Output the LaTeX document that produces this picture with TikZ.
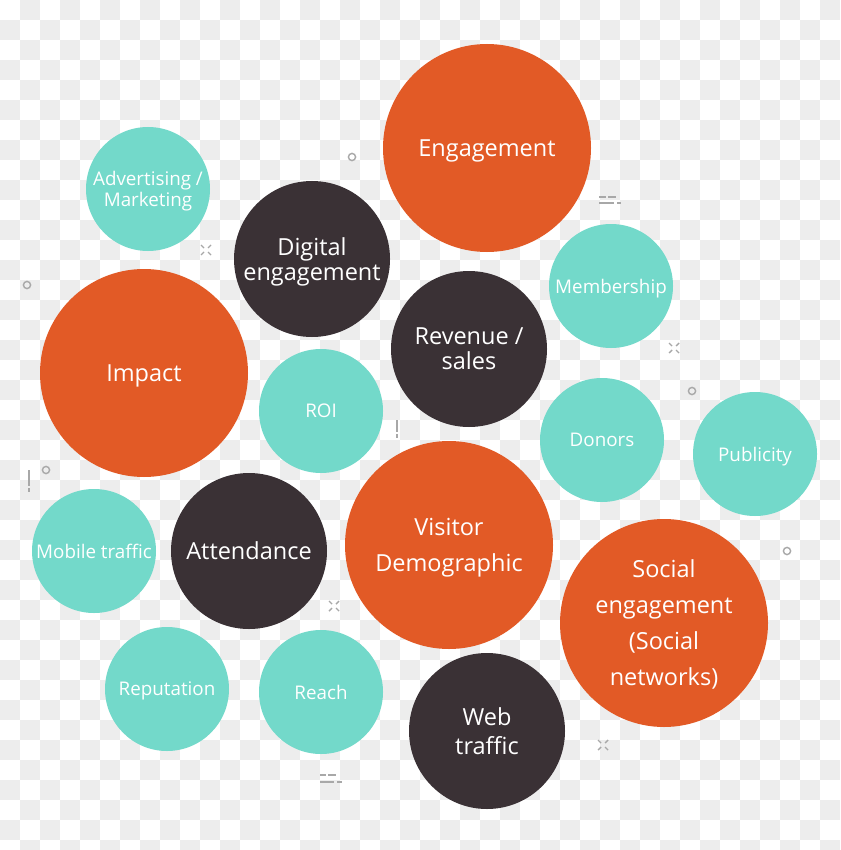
\documentclass[tikz,border=0pt]{standalone}
\usepackage{fontspec}
\setmainfont{Open Sans}
\definecolor{ballorange}{HTML}{E25A26}
\definecolor{ballteal}{HTML}{73D9CA}
\definecolor{balldark}{HTML}{3A3135}
\definecolor{checkgray}{HTML}{EDEDED}
\definecolor{markgray}{HTML}{A8A8A8}

\begin{document}
\begin{tikzpicture}[x=1pt,y=-1pt,
    ball/.style={circle, inner sep=0pt, align=center, text=white, text depth=0pt},
    bigball/.style={ball, fill=ballorange, minimum size=208pt, font=\fontsize{23.5}{36}\selectfont},
    midball/.style={ball, fill=balldark, minimum size=156pt, font=\fontsize{23.5}{25}\selectfont},
    smallball/.style={ball, fill=ballteal, minimum size=124pt, font=\fontsize{18.8}{21}\selectfont},
    ring/.style={draw=markgray, line width=1.4pt},
    tick/.style={draw=markgray, line width=1.4pt}]
  % Canvas
  \useasboundingbox (0,0) rectangle (840,850);
  \clip (0,0) rectangle (840,850);
  \fill[white] (0,0) rectangle (840,850);

  % Checkerboard background
  \foreach \i in {0,...,41}
    \foreach \j in {0,...,42}{
      \pgfmathtruncatemacro\odd{mod(\i+\j,2)}
      \ifnum\odd=1 \fill[checkgray] (20*\i,20*\j) rectangle ++(20,20); \fi
    }

  % Small rings
  \foreach \p in {(352,157),(27,285),(46,470),(692,391),(787,551)}
    \draw[ring] \p circle (3.6pt);

  % Small crosses
  \foreach \p in {(206,250),(674,348),(334,606),(603,745)}{
    \draw[tick] \p ++(-5,-5) -- ++(3,3);
    \draw[tick] \p ++(5,-5) -- ++(-3,3);
    \draw[tick] \p ++(-5,5) -- ++(3,-3);
    \draw[tick] \p ++(5,5) -- ++(-3,-3);
  }

  % Dash marks
  \draw[tick] (599,197) -- (606,197) (608,197) -- (616,197);
  \draw[tick] (599,203) -- (614,203) (617,203) -- (621,203);
  \draw[tick] (320,775) -- (326,775) (328,775) -- (336,775);
  \draw[tick] (320,782) -- (334,782) (337,782) -- (342,782);
  \draw[tick] (397,420) -- (397,432) (397,434) -- (397,438);
  \draw[tick] (29,470) -- (29,486) (29,488) -- (29,492);

  % Orange bubbles
  \node[bigball] (engagement) at (487,148) {Engagement};
  \node[bigball] (impact) at (144,373) {Impact};
  \node[bigball] (visitor) at (449,545) {Visitor\\Demographic};
  \node[bigball] (social) at (664,623) {Social\\engagement\\(Social\\networks)};

  % Dark bubbles
  \node[midball] (digital) at (312,259) {Digital\\engagement};
  \node[midball] (revenue) at (469,349) {Revenue /\\sales};
  \node[midball] (attendance) at (249,551) {Attendance};
  \node[midball, font=\fontsize{23.5}{29}\selectfont] (web) at (487,731) {Web\\traffic};

  % Teal bubbles
  \node[smallball] (advertising) at (148,189) {Advertising /\\Marketing};
  \node[smallball] (membership) at (611,286) {Membership};
  \node[smallball] (roi) at (321,411) {ROI};
  \node[smallball] (donors) at (602,440) {Donors};
  \node[smallball] (publicity) at (755,454) {Publicity};
  \node[smallball] (mobile) at (94,551) {Mobile traffic};
  \node[smallball] (reputation) at (167,689) {Reputation};
  \node[smallball] (reach) at (321,692) {Reach};
\end{tikzpicture}
\end{document}
